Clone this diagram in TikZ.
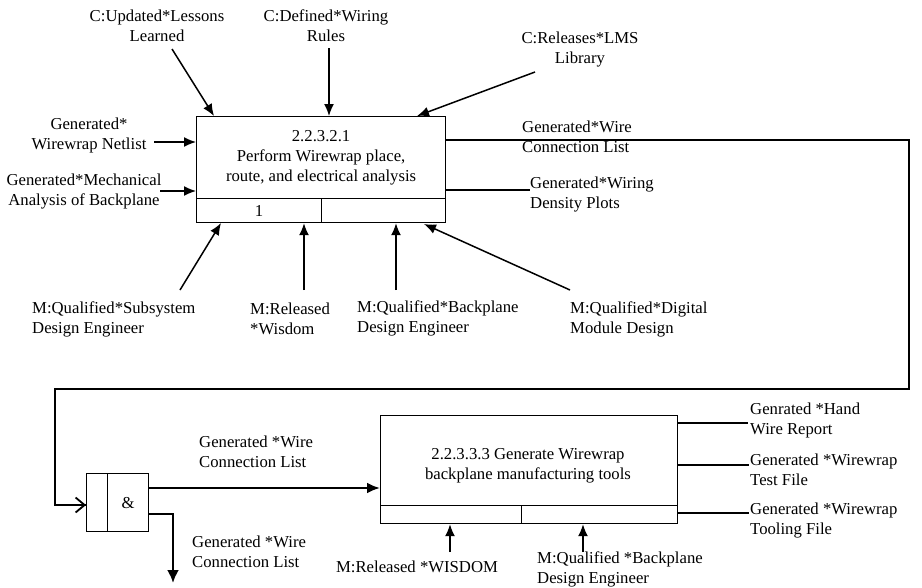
\documentclass[tikz,border=0pt]{standalone}
\usepackage{fontspec}
\setmainfont{Liberation Serif}
\usetikzlibrary{arrows.meta}
\newcommand\lblfont{\fontsize{16.7}{20}\selectfont}
\tikzset{
  box/.style={draw, line width=1.2pt, inner sep=0pt, anchor=north west, font=\lblfont},
  lbl/.style={inner sep=0pt, font=\lblfont, align=center},
  lbll/.style={inner sep=0pt, font=\lblfont, align=left, anchor=west},
  arr/.style={-{Latex[length=12pt,width=10pt]}, line width=1.5pt},
  flow/.style={line width=2.4pt},
  plain/.style={line width=1.5pt},
  thin/.style={line width=1.2pt}
}
\begin{document}
\begin{tikzpicture}[x=1pt,y=-1pt]
\useasboundingbox (0,0) rectangle (922,587);

% activity 2.2.3.2.1
\node[box, minimum width=249pt, minimum height=82pt, align=center] (p1) at (196,116)
  {2.2.3.2.1\\Perform Wirewrap place,\\route, and electrical analysis};
\node[box, minimum width=125pt, minimum height=24pt] (p1a) at (196,198) {1};
\node[box, minimum width=124pt, minimum height=24pt] (p1b) at (321,198) {};

% activity 2.2.3.3.3
\node[box, minimum width=297pt, minimum height=90pt] (p2) at (380,415) {};
\node[lbl] (p2t) at (528,466) {2.2.3.3.3 Generate Wirewrap\\backplane manufacturing tools};
\node[box, minimum width=141pt, minimum height=18pt] (p2a) at (380,505) {};
\node[box, minimum width=156pt, minimum height=18pt] (p2b) at (521,505) {};

% junction
\node[box, minimum width=21pt, minimum height=58pt] (ja) at (86,473) {};
\node[box, minimum width=41pt, minimum height=58pt] (jb) at (107,473) {\&};

% labels
\node[lbl] (lessons) at (157,26) {C:Updated*Lessons\\Learned};
\node[lbl] (rules) at (326,26) {C:Defined*Wiring\\Rules};
\node[lbl] (lms) at (580,50) {C:Releases*LMS\\Library};
\node[lbl] (netlist) at (89,135) {Generated*\\Wirewrap Netlist};
\node[lbl] (mech) at (84,192) {Generated*Mechanical\\Analysis of Backplane};
\node[lbll] (wcl) at (522,137) {Generated*Wire\\Connection List};
\node[lbll] (dens) at (530,195) {Generated*Wiring\\Density Plots};
\node[lbll] (subsys) at (32,319) {M:Qualified*Subsystem\\Design Engineer};
\node[lbll] (wisdom) at (250,319) {M:Released\\*Wisdom};
\node[lbll] (bpe) at (357,318) {M:Qualified*Backplane\\Design Engineer};
\node[lbll] (dmd) at (570,319) {M:Qualified*Digital\\Module Design};
\node[lbll] (wcl2) at (199,452) {Generated *Wire\\Connection List};
\node[lbll] (wcl3) at (192,552) {Generated *Wire\\Connection List};
\node[lbll] (hand) at (750,420) {Genrated *Hand\\Wire Report};
\node[lbll] (test) at (750,470) {Generated *Wirewrap\\Test File};
\node[lbll] (tool) at (750,521) {Generated *Wirewrap\\Tooling File};
\node[lbl] (wisdom2) at (417,567) {M:Released *WISDOM};
\node[lbll] (bpe2) at (537,569) {M:Qualified *Backplane\\Design Engineer};

% free ends of connectors
\coordinate (lessonsEnd) at (172,49);
\coordinate (rulesEnd) at (329,48);
\coordinate (lmsEnd) at (535,72);
\coordinate (netlistEnd) at (154,142);
\coordinate (mechEnd) at (160,191);
\coordinate (subsysEnd) at (180,290);
\coordinate (wisdomEnd) at (304,290);
\coordinate (bpeEnd) at (396,290);
\coordinate (dmdEnd) at (570,290);
\coordinate (densEnd) at (530,190);
\coordinate (wisdom2End) at (450,552);
\coordinate (bpe2End) at (583,552);
\coordinate (splitEnd) at (173,583);

% controls
\draw[arr] (lessonsEnd) -- (p1.north west -| 214,0);
\draw[arr] (rulesEnd) -- (p1.north west -| 329,0);
\draw[arr] (lmsEnd) -- (p1.north west -| 417,0);

% inputs
\draw[arr] (netlistEnd) -- (p1.west |- 0,142);
\draw[arr] (mechEnd) -- (p1.west |- 0,191);

% mechanisms
\draw[arr] (subsysEnd) -- (221,223);
\draw[arr] (wisdomEnd) -- (p1a.south -| 304,0);
\draw[arr] (bpeEnd) -- (p1b.south -| 396,0);
\draw[arr] (dmdEnd) -- (424,224);

% outputs
\draw[plain] (p1.east |- 0,190) -- (densEnd);
\draw[flow, line join=miter] (p1.east |- 0,140) -- (909,140) -- (909,389) -- (55,389) -- (55,505)
  -- (ja.west |- 0,505);
\draw[line width=1.8pt, -{Straight Barb[length=9pt,width=15pt]}] (70,505) -- (ja.west |- 0,505);

% junction outputs
\draw[flow, -{Latex[length=13pt,width=11pt]}] (jb.east |- 0,488) -- (p2.west |- 0,488);
\draw[flow, line join=miter, -{Latex[length=13pt,width=12pt]}] (jb.east |- 0,514) -- (173,514) -- (splitEnd);

% outputs of 2.2.3.3.3
\draw[thin] (p2.east |- 0,423) -- (748,423);
\draw[thin] (p2.east |- 0,465) -- (749,465);
\draw[thin] (p2b.east |- 0,513) -- (749,513);

% mechanisms of 2.2.3.3.3
\draw[arr] (wisdom2End) -- (p2a.south -| 450,0);
\draw[arr] (bpe2End) -- (p2b.south -| 583,0);
\end{tikzpicture}
\end{document}
